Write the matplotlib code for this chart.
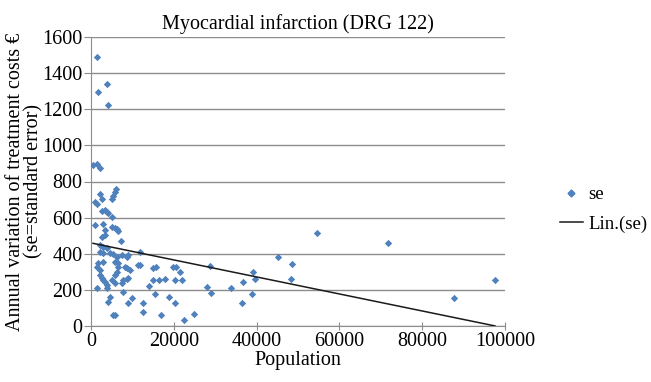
import matplotlib
matplotlib.use("Agg")
import matplotlib.pyplot as plt
import numpy as np
from matplotlib.lines import Line2D

title = "Myocardial infarction (DRG 122)"
x_label = "Population"
y_label = "Annual variation of treatment costs €\n(se=standard error)"
series_name = "se"
trend_name = "Lin.(se)"

population = [
    1450, 1690, 3860, 4100, 480, 1450, 2170, 970, 1450, 2170, 2660,
    6040, 5800, 5310, 5070, 2660, 3380, 3860, 4100, 5070, 970, 2900, 3380,
    5070, 5800, 6280, 6520, 7250, 2660, 3380, 2170, 2900, 3860, 2170, 2900,
    4590, 5310, 6280, 7490, 8690, 8940, 11830, 11350, 11830, 1690, 1450, 2170,
    2900, 5800, 6520, 6520, 8210, 8690, 9420, 14970, 15700, 19800, 20530, 21490,
    28740, 39120, 39610, 45160, 48540, 48300, 54580, 71730, 87660, 97570,
    2170, 2660, 2900, 6280, 5800, 3380, 3860, 5070, 5800, 7730, 8690, 8940,
    14010, 14970, 16420, 17870, 20290, 21980, 1450, 3860, 7490, 7730, 15460,
    28010, 28980, 33810, 36710, 38880, 4590, 9900, 18840, 4100, 8940, 12560,
    20290, 36470, 5310, 5800, 12560, 16900, 24870, 22460,
]
se_cost = [
    1490, 1295, 1340, 1225, 890, 897, 875, 686, 675, 730, 703,
    758, 742, 720, 703, 637, 642, 631, 626, 603, 559, 565, 531,
    548, 543, 537, 526, 471, 493, 504, 448, 437, 432, 410, 404,
    404, 399, 382, 393, 382, 393, 410, 338, 338, 349, 327, 310,
    354, 354, 349, 327, 327, 321, 310, 321, 327, 327, 327, 299,
    332, 299, 260, 382, 343, 260, 515, 460, 155, 255,
    282, 266, 255, 299, 282, 244, 227, 255, 238, 255, 260, 266,
    221, 255, 255, 260, 255, 255, 210, 210, 238, 188, 177,
    216, 183, 210, 244, 177, 161, 155, 161, 133, 127, 127,
    127, 127, 61, 61, 78, 61, 66, 33,
]
trend_intercept = 460.0
trend_slope = -0.00471

x_ticks = [0, 20000, 40000, 60000, 80000, 100000]
y_ticks = [0, 200, 400, 600, 800, 1000, 1200, 1400, 1600]

plt.rcParams['font.family'] = ['Liberation Serif', 'DejaVu Serif']
FS = 14.5

fig = plt.figure(figsize=(6.51, 3.82), dpi=100)
ax = fig.add_axes([91/651, 1-326/382, (505-91)/651, (326-37)/382])

ax.scatter(population, se_cost, marker='D', s=14, color='#4F81BD', zorder=3, linewidths=0)
xs = np.array([min(population), max(population)])
ax.plot(xs, trend_intercept + trend_slope * xs, color='#1a1a1a', lw=1.1, zorder=4)

ax.set_xlim(0, 100000)
ax.set_ylim(0, 1600)
ax.set_xticks(x_ticks)
ax.set_yticks(y_ticks)
ax.set_xticklabels([str(t) for t in x_ticks], fontsize=FS)
ax.set_yticklabels([str(t) for t in y_ticks], fontsize=FS)
ax.grid(axis='y', color='#8c8c8c', lw=1.0)
ax.set_axisbelow(True)
for s in ['top', 'right']:
    ax.spines[s].set_visible(False)
for s in ['left', 'bottom']:
    ax.spines[s].set_color('#8c8c8c')
ax.tick_params(axis='x', direction='inout', length=6, color='#8c8c8c', pad=1)
ax.tick_params(axis='y', direction='out', length=5, color='#8c8c8c', pad=1)

ax.set_title(title, fontsize=FS, pad=6)
ax.set_xlabel(x_label, fontsize=FS, labelpad=0)
ax.set_ylabel(y_label, fontsize=FS, labelpad=-1, linespacing=0.95)

handles = [
    Line2D([], [], marker='D', ls='none', color='#4F81BD', markersize=3.5),
    Line2D([], [], color='#1a1a1a', lw=1.1),
]
fig.legend(handles, [series_name, trend_name], loc='upper left',
           bbox_to_anchor=(560/651, 1-186/382), frameon=False, fontsize=13.5,
           handlelength=1.2, handletextpad=0.3, labelspacing=0.65,
           borderaxespad=0, borderpad=0)

fig.savefig("out.png", dpi=100)
